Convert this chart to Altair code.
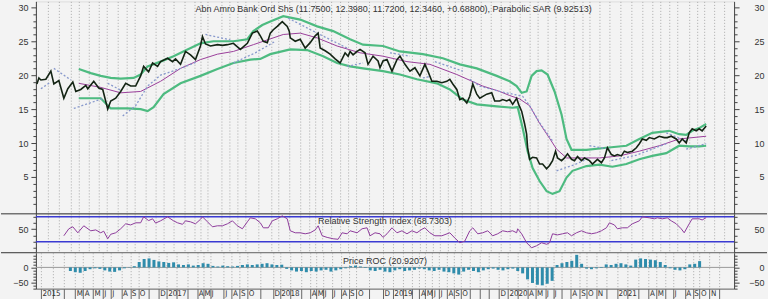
import json
import altair as alt
import pandas as pd

FONT = "Liberation Sans"
NARROW = "Liberation Sans Narrow, DejaVu Sans Condensed, Liberation Sans"

# ---------------- data (x = time index, y = values) ----------------
price_t = [36, 38, 40, 45, 50, 53, 58, 63, 67, 72, 75, 80, 85, 87, 93, 98, 102, 107, 110, 115,
           120, 125, 130, 135, 140, 143, 148, 152, 157, 160, 167, 172, 175, 180, 185, 190, 195, 200, 202, 205,
           210, 217, 222, 227, 233, 240, 247, 252, 257, 260, 263, 267, 270, 273, 277, 282, 287, 289, 290, 295,
           300, 305, 310, 315, 318, 320, 325, 330, 335, 340, 345, 348, 350, 353, 357, 360, 365, 368, 373, 378,
           380, 383, 387, 392, 397, 400, 405, 410, 415, 420, 425, 428, 432, 437, 442, 447, 450, 453, 457, 460,
           463, 467, 470, 473, 477, 480, 487, 492, 495, 500, 503, 507, 510, 513, 517, 519, 522, 525, 527, 528,
           530, 533, 537, 540, 543, 547, 550, 553, 556, 558, 562, 565, 568, 572, 575, 578, 582, 585, 590, 593,
           598, 602, 605, 608, 612, 615, 618, 622, 625, 628, 633, 637, 640, 643, 647, 650, 655, 660, 665, 668,
           672, 677, 680, 683, 687, 690, 693, 697, 700, 703, 707]
price_v = [18.7, 19.6, 19.3, 19.4, 20.6, 18.7, 19.2, 16.6, 18.0, 19.0, 17.6, 17.9, 18.5, 18.0, 19.1, 18.1, 17.9, 15.0, 16.2, 16.6,
           17.6, 18.8, 18.4, 18.4, 19.9, 21.3, 20.5, 21.8, 21.3, 22.0, 22.5, 22.0, 22.4, 21.6, 23.5, 23.0, 22.3, 24.3, 25.7, 24.6,
           24.3, 24.5, 24.4, 24.5, 24.7, 23.8, 24.7, 26.2, 26.5, 25.8, 25.0, 24.8, 26.2, 26.7, 27.2, 27.9, 27.2, 26.5, 25.5, 25.0,
           25.3, 24.0, 24.8, 25.8, 26.2, 24.0, 23.6, 23.1, 22.4, 21.8, 23.3, 22.8, 23.5, 23.0, 23.5, 23.8, 23.3, 21.6, 22.8, 22.1,
           21.1, 22.1, 22.3, 20.6, 22.3, 22.8, 21.6, 20.6, 21.1, 19.9, 21.6, 20.6, 19.1, 19.1, 18.9, 19.1, 19.4, 18.7, 17.9, 16.4,
           16.6, 15.9, 16.9, 18.7, 17.2, 16.6, 17.2, 17.4, 16.2, 16.2, 16.4, 16.2, 16.4, 15.7, 16.6, 15.7, 14.7, 12.8, 11.3, 9.3,
           7.6, 7.9, 7.8, 6.9, 6.9, 6.2, 6.7, 7.4, 8.8, 7.8, 7.4, 7.8, 8.4, 7.6, 7.4, 8.0, 7.4, 7.8, 7.4, 6.9,
           7.6, 7.1, 7.8, 9.3, 8.3, 8.1, 8.3, 8.1, 8.8, 8.6, 8.8, 9.3, 9.9, 10.6, 10.4, 10.8, 10.6, 11.0, 10.8, 10.8,
           11.0, 10.6, 10.0, 10.6, 10.0, 11.5, 12.1, 11.8, 12.1, 11.8, 12.5]

upper_t = [78, 90, 100, 110, 120, 133, 140, 147, 160, 173, 187, 200, 213, 233, 247, 253, 262, 270, 283, 300,
           317, 333, 350, 363, 383, 400, 423, 443, 460, 477, 497, 510, 517, 522, 527, 532, 537, 542, 548, 555,
           562, 567, 572, 587, 607, 627, 640, 653, 670, 680, 687, 693, 700, 707]
upper_v = [20.9, 20.3, 19.9, 19.6, 19.5, 19.6, 20.1, 21.3, 22.0, 22.8, 23.8, 24.7, 25.0, 25.0, 25.3, 26.5, 27.4, 27.9, 28.7, 28.2,
           27.2, 26.5, 25.3, 24.5, 24.3, 23.5, 23.1, 22.5, 21.6, 21.0, 19.9, 19.1, 18.4, 17.4, 17.6, 19.9, 20.6, 20.7, 20.1, 17.6,
           14.2, 10.6, 9.0, 9.0, 9.3, 9.6, 10.6, 11.5, 11.8, 11.3, 11.2, 11.8, 12.2, 12.8]

lower_t = [78, 100, 110, 127, 140, 147, 153, 163, 180, 200, 217, 233, 250, 260, 270, 290, 307, 323, 337, 350,
           363, 383, 400, 417, 437, 450, 463, 477, 497, 513, 518, 523, 528, 533, 540, 547, 553, 560, 567, 573,
           587, 600, 613, 627, 640, 653, 667, 680, 690, 700, 707]
lower_v = [16.6, 16.6, 15.1, 15.1, 15.0, 14.7, 15.3, 17.2, 18.8, 19.9, 20.9, 21.8, 22.3, 22.4, 23.1, 23.8, 23.7, 22.8, 21.8, 21.3,
           21.0, 20.6, 20.1, 19.4, 18.8, 17.9, 16.4, 15.7, 15.4, 15.2, 15.3, 12.2, 8.8, 6.3, 4.4, 2.9, 2.5, 2.9, 4.9, 5.9,
           6.6, 6.8, 6.5, 6.9, 7.6, 8.1, 8.5, 9.6, 9.5, 9.5, 9.6]

ma_t = [78, 100, 120, 140, 160, 180, 200, 217, 233, 253, 283, 300, 317, 337, 360, 383, 407, 430, 457, 483,
        500, 510, 520, 530, 540, 550, 557, 567, 580, 600, 620, 640, 660, 680, 707]
ma_v = [18.8, 18.2, 17.4, 17.6, 19.1, 21.0, 22.3, 23.1, 23.5, 24.5, 26.0, 26.2, 25.5, 24.3, 23.3, 22.8, 22.0, 21.6, 20.1, 18.4,
        17.6, 17.0, 16.5, 15.5, 12.9, 10.7, 9.1, 7.8, 7.8, 7.8, 8.1, 8.8, 9.6, 10.6, 11.0]

sar_seg = [1, 1, 2, 2, 3, 3, 4, 4, 5, 5, 5, 5, 5, 5, 6, 6, 7, 7, 7, 8, 8, 8, 9, 9, 10, 10,
           11, 11, 12, 12, 13, 13, 13, 13, 13, 13, 13, 14, 14, 14, 15, 15, 16, 16, 16, 17, 17, 18, 18]
sar_t = [40, 50, 53, 70, 73, 103, 107, 120, 122, 135, 147, 160, 180, 197, 205, 230, 233, 255, 275, 288, 317, 347, 347, 363,
         390, 410, 423, 430, 435, 463, 470, 480, 500, 523, 530, 540, 553, 557, 575, 590, 590, 610, 612, 637, 667,
         667, 687, 687, 707]
sar_v = [18.0, 19.0, 21.0, 19.3, 15.1, 16.6, 18.8, 17.8, 14.0, 15.5, 18.4, 20.0, 21.0, 22.0, 26.0, 25.2, 21.8, 23.3, 25.0,
         28.4, 26.2, 24.0, 21.3, 21.8, 23.3, 22.8, 19.6, 19.8, 22.0, 20.6, 19.4, 18.4, 17.6, 16.9, 15.5, 13.0, 10.3,
         5.9, 6.8, 7.8, 9.6, 9.1, 7.4, 8.2, 9.9, 11.5, 10.3, 9.1, 9.9]

rsi_t = [63, 68, 72, 77, 83, 90, 95, 100, 103, 107, 110, 115, 120, 125, 130, 135, 140, 143, 148, 152,
         155, 160, 167, 173, 177, 182, 185, 190, 195, 200, 202, 207, 212, 217, 222, 227, 232, 237, 242, 247,
         250, 255, 260, 263, 268, 272, 277, 282, 287, 290, 295, 300, 305, 310, 315, 318, 322, 327, 333, 338,
         342, 347, 350, 357, 362, 367, 370, 375, 380, 383, 387, 392, 397, 402, 407, 412, 417, 422, 425, 430,
         435, 442, 450, 455, 460, 465, 470, 473, 478, 483, 488, 493, 498, 503, 508, 513, 517, 518, 522, 527,
         532, 537, 542, 547, 550, 553, 558, 563, 568, 572, 577, 582, 587, 592, 597, 602, 607, 610, 615, 618,
         623, 628, 633, 640, 643, 650, 655, 658, 663, 668, 672, 677, 682, 685, 690, 693, 700, 703, 707]
rsi_v = [39.6, 50.8, 54.0, 44.4, 55.6, 47.6, 49.0, 44.4, 47.0, 34.8, 42.0, 44.4, 50.8, 58.8, 57.0, 60.4, 60.4, 70.0, 64.0, 66.8,
         60.0, 63.6, 70.0, 63.6, 60.4, 58.0, 63.6, 62.0, 58.8, 66.0, 70.0, 62.0, 54.0, 55.6, 55.6, 58.8, 63.6, 55.6, 50.8, 62.0,
         68.4, 66.8, 60.4, 52.4, 52.4, 63.6, 66.8, 71.6, 66.8, 47.6, 44.4, 44.4, 42.8, 44.4, 49.0, 55.6, 39.6, 37.0, 34.8, 34.0,
         44.4, 42.8, 47.6, 44.4, 50.8, 52.4, 39.6, 44.4, 42.8, 37.0, 42.8, 52.4, 44.4, 47.6, 42.8, 47.6, 44.4, 50.0, 52.4, 44.4,
         39.6, 39.6, 44.4, 36.0, 28.4, 31.0, 47.6, 52.4, 42.8, 44.4, 47.6, 39.6, 42.8, 47.6, 46.0, 47.6, 44.4, 50.8, 42.8, 28.4,
         20.4, 23.6, 28.4, 26.0, 28.4, 42.8, 41.0, 42.8, 44.4, 39.6, 44.4, 47.6, 44.4, 42.8, 44.4, 47.6, 52.4, 60.4, 57.0, 50.8,
         52.4, 52.4, 58.8, 63.6, 70.0, 68.4, 66.8, 68.4, 66.8, 68.4, 63.6, 58.8, 50.8, 44.4, 58.8, 66.8, 66.8, 65.0, 68.7]

roc_t = [65, 70, 75, 80, 85, 90, 95, 100, 105, 110, 115, 120, 125, 130, 135, 140, 145, 150, 155, 160,
         165, 170, 175, 180, 185, 190, 195, 200, 205, 210, 215, 220, 225, 230, 235, 240, 245, 250, 255, 260,
         265, 270, 275, 280, 285, 290, 295, 300, 305, 310, 315, 320, 325, 330, 335, 340, 345, 350, 355, 360,
         365, 370, 375, 380, 385, 390, 395, 400, 405, 410, 415, 420, 425, 430, 435, 440, 445, 450, 455, 460,
         465, 470, 475, 480, 485, 490, 495, 500, 505, 510, 515, 520, 525, 530, 535, 540, 545, 550, 555, 560,
         565, 570, 575, 580, 585, 590, 595, 600, 605, 610, 615, 620, 625, 630, 635, 640, 645, 650, 655, 660,
         665, 670, 675, 680, 685, 690, 695, 700, 705]
roc_v = [-12, -16, -18, -12, -6, -3, -5, -10, -14, -15, -10, -3, 1, 4, 18, 28, 30, 25, 20, 18,
         15, 17, 10, 8, 10, 6, 8, 14, 12, 5, 3, 6, 4, 3, 5, 8, 10, 8, 10, 12,
         14, 10, 8, 9, -5, -10, -14, -12, -16, -12, -14, -10, -8, -14, -10, -6, -3, 4, 6, 3,
         -2, -10, -12, -8, -14, -16, -10, -6, -12, -10, -8, -4, -6, -10, -12, -8, -14, -16, -20, -24,
         -14, -8, -12, -16, -10, -6, -4, -8, -10, -6, -4, -12, -20, -40, -52, -58, -60, -55, -45, 8,
         14, 18, 22, 42, 12, -4, -6, -3, -2, 10, 8, 12, 14, 10, 6, 26, 30, 28, 26, 24,
         18, 8, -3, -8, -10, -6, 10, 12, 21]

tick_t = [35, 47, 58, 70, 78, 88, 98, 106, 117, 126, 134, 145, 155, 163, 173, 184, 194, 200, 207, 221,
          229, 237, 245, 258, 271, 278, 289, 300, 309, 315, 322, 331, 340, 348, 356, 369, 383, 393, 403, 412,
          420, 426, 433, 440, 448, 455, 462, 471, 481, 491, 501, 510, 520, 530, 538, 548, 556, 565, 574, 583,
          590, 600, 610, 621, 632, 643, 653, 661, 670, 678, 690, 698, 705, 715, 725]
tick_lab = ["2015", "", "", "M", "A", "M", "J", "J", "A", "S", "O", "", "D", "2017", "", "", "A", "M", "J", "J",
            "A", "S", "O", "", "D", "2018", "", "", "A", "M", "J", "J", "A", "S", "O", "", "D", "2019", "", "",
            "A", "M", "J", "J", "A", "S", "O", "", "", "", "D", "2020", "", "A", "M", "J", "J", "", "A", "S",
            "O", "N", "", "2021", "", "", "A", "M", "", "J", "A", "S", "O", "N", ""]

main_title = "Abn Amro Bank Ord Shs (11.7500, 12.3980, 11.7200, 12.3460, +0.68800), Parabolic SAR (9.92513)"
rsi_title = "Relative Strength Index (68.7303)"
roc_title = "Price ROC (20.9207)"

# ---------------- frames ----------------
price_df = pd.DataFrame({"t": price_t, "v": price_v})
upper_df = pd.DataFrame({"t": upper_t, "v": upper_v})
lower_df = pd.DataFrame({"t": lower_t, "v": lower_v})
ma_df = pd.DataFrame({"t": ma_t, "v": ma_v})
sar_df = pd.DataFrame({"seg": sar_seg, "t": sar_t, "v": sar_v})
rsi_df = pd.DataFrame({"t": rsi_t, "v": rsi_v})
roc_df = pd.DataFrame({"t": roc_t, "v": roc_v})

W = 700
H_MAIN, H_RSI, H_ROC = 213, 39, 36

xs = alt.Scale(domain=[35, 735], nice=False, zero=False)
GRID = dict(grid=True, gridDash=[1, 2], gridColor="#a9a9a9", gridWidth=1)
x_top_axis = alt.Axis(values=tick_t, labels=False, ticks=False, domain=False, title=None, **GRID)
label_expr = "%s[indexof(%s, datum.value)]" % (json.dumps(tick_lab), json.dumps(tick_t))
x_bot_axis = alt.Axis(values=tick_t, labelExpr=label_expr, labelAlign="left", labelBaseline="top",
                      labelPadding=-10, labelOffset=1, labelFontSize=8, labelColor="#333", labelFont=NARROW,
                      labelOverlap=False, labelFlush=False, tickSize=11, tickColor="#666",
                      domain=True, domainColor="#666", title=None, **GRID)


def y_axis(orient, values, minor=False):
    kw = dict(orient=orient, values=values, title=None, grid=False, tickColor="#444",
              domainColor="#444", labelFontSize=9, labelColor="#333", labelFont=FONT)
    if minor:
        kw.update(labels=False, domain=False, tickSize=3)
    elif orient == "left":
        kw.update(labelPadding=3, tickSize=5)
    else:
        kw.update(labelPadding=25, labelAlign="right", tickSize=5)
    return alt.Axis(**kw)


def series(df, scale, xaxis, color, width, yaxis=None, dash=None, opacity=1.0, detail=None):
    mk = dict(color=color, strokeWidth=width, opacity=opacity, interpolate="linear")
    if dash:
        mk["strokeDash"] = dash
    enc = dict(x=alt.X("t:Q", scale=xs, axis=xaxis),
               y=alt.Y("v:Q", scale=scale, axis=yaxis))
    if detail:
        enc["detail"] = detail
    return alt.Chart(df).mark_line(**mk).encode(**enc)


def axis_layers(df, scale, xaxis, major, minor):
    return [series(df, scale, xaxis, "#000", 1, yaxis=y_axis(o, v, m), opacity=0)
            for o in ("left", "right") for v, m in ((major, False), (minor, True))]


def label(text, x, y, align):
    return alt.Chart(pd.DataFrame({"s": [text]})).mark_text(
        align=align, baseline="middle", fontSize=9, font=FONT, color="#333"
    ).encode(text="s:N", x=alt.value(x), y=alt.value(y))


# ---------------- main panel ----------------
ms = alt.Scale(domain=[-0.44, 30.88], nice=False, zero=False)
main_major = [5, 10, 15, 20, 25, 30]
main_minor = [v for v in range(0, 31) if v % 5]
main = alt.layer(
    series(upper_df, ms, x_top_axis, "#4dbb80", 2.2),
    series(lower_df, ms, x_top_axis, "#4dbb80", 2.2),
    series(ma_df, ms, x_top_axis, "#9b3f9b", 1.0),
    series(sar_df, ms, x_top_axis, "#8798cc", 1.3, dash=[2, 2], detail="seg:N"),
    series(price_df, ms, x_top_axis, "#142414", 1.6),
    *axis_layers(price_df, ms, x_top_axis, main_major, main_minor),
    label(main_title, 160, 8, "left"),
).resolve_axis(y="independent").properties(width=W, height=H_MAIN)

# ---------------- RSI panel ----------------
rs = alt.Scale(domain=[12.4, 74.8], nice=False, zero=False)
lvl_df = pd.DataFrame({"v": [70, 30]})
sep = alt.Chart(pd.DataFrame({"a": [0, 39]})).mark_rule(color="#333", strokeWidth=1).encode(
    y=alt.Y("a:Q", scale=alt.Scale(domain=[0, 39], range=[0, 39]), axis=None),
    x=alt.value(-35), x2=alt.value(733))
rsi = alt.layer(
    alt.Chart(lvl_df).mark_rule(color="#3a3ad2", strokeWidth=1.5).encode(
        y=alt.Y("v:Q", scale=rs, axis=None)),
    series(rsi_df, rs, x_top_axis, "#8e3c9c", 1.0),
    *axis_layers(rsi_df, rs, x_top_axis, [50], [20, 30, 40, 60, 70]),
    label(rsi_title, 350, 7, "center"),
).resolve_axis(y="independent").properties(width=W, height=H_RSI)
rsi = alt.layer(rsi, sep).resolve_scale(y="independent").resolve_axis(y="independent")

# ---------------- ROC panel ----------------
rc = alt.Scale(domain=[-71, 49], nice=False, zero=False)
roc_minor = [-70, -60, -40, -30, -20, -10, 10, 20, 30, 40]
roc = alt.layer(
    alt.Chart(pd.DataFrame({"v": [0]})).mark_rule(color="#9a9a9a", strokeWidth=1).encode(
        y=alt.Y("v:Q", scale=rc, axis=None)),
    alt.Chart(roc_df).mark_bar(color="#2f8cab", size=3).encode(
        x=alt.X("t:Q", scale=xs, axis=x_bot_axis),
        y=alt.Y("v:Q", scale=rc, axis=None),
        y2=alt.datum(0)),
    *axis_layers(roc_df, rc, x_bot_axis, [0, -50], roc_minor),
    label(roc_title, 350, 8, "center"),
).resolve_axis(y="independent").properties(width=W, height=H_ROC)

chart = alt.vconcat(main, rsi, roc, spacing=0, bounds="flush", padding=0).configure_view(
    stroke=None, fill="#e9e9e9"
).configure(background="#f3f3f3", font=FONT)

chart.save("out.html", embed_options={"renderer": "svg", "actions": False})
